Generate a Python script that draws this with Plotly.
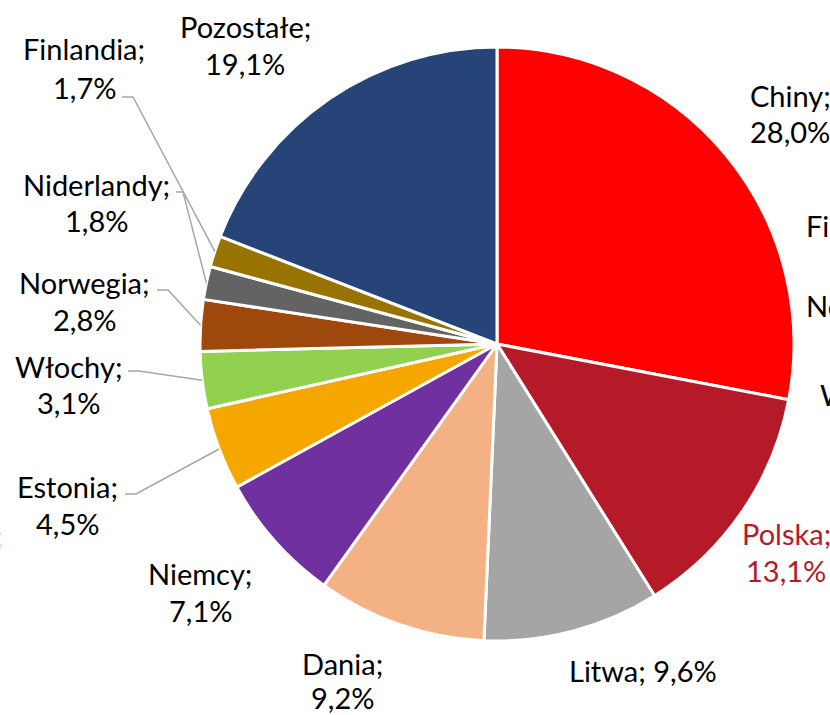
import math
import plotly.graph_objects as go

# Udział krajów (%)
countries = ["Chiny", "Polska", "Litwa", "Dania", "Niemcy", "Estonia",
             "Włochy", "Norwegia", "Niderlandy", "Finlandia", "Pozostałe"]
shares = [28.0, 13.1, 9.6, 9.2, 7.1, 4.5, 3.1, 2.8, 1.8, 1.7, 19.1]
colors = ["#FF0000", "#B41A28", "#A5A5A5", "#F4B183", "#7030A0", "#F5A700",
          "#92D050", "#9E480E", "#636363", "#997300", "#264478"]

W, H = 830, 715
CX, CY, R = 497, 344, 297  # pie centre and radius in pixels

FONT = "Lato"
FS = 29
TXT = "#000000"


def px(x):
    return x / W


def py(y):
    return 1 - y / H


def fmt(v):
    return f"{v:.1f}".replace(".", ",") + "%"


fig = go.Figure(go.Pie(
    labels=countries,
    values=shares,
    sort=False,
    direction="clockwise",
    rotation=0,
    marker=dict(colors=colors, line=dict(color="white", width=3)),
    textinfo="none",
    hoverinfo="label+percent",
    domain=dict(x=[(CX - R) / W, (CX + R) / W],
                y=[(H - CY - R) / H, (H - CY + R) / H]),
    showlegend=False,
))

# label placement: (centre x, first line y, second line y or None, colour)
label_pos = {
    "Chiny": (790, 95, 131, TXT),
    "Polska": (786, 533, 570, "#B41A28"),
    "Litwa": (643, 670, None, TXT),
    "Dania": (342, 663, 697, TXT),
    "Niemcy": (200, 573, 610, TXT),
    "Estonia": (67, 486, 523, TXT),
    "Włochy": (68, 366, 402, TXT),
    "Norwegia": (84, 282, 320, TXT),
    "Niderlandy": (96, 184, 220, TXT),
    "Finlandia": (84, 48, 87, TXT),
    "Pozostałe": (245, 27, 64, TXT),
}

annotations = []
for name, val in zip(countries, shares):
    x, y1, y2, col = label_pos[name]
    if y2 is None:
        lines = [(f"{name}; {fmt(val)}", y1)]
    else:
        lines = [(f"{name};", y1), (fmt(val), y2)]
    for text, y in lines:
        annotations.append(dict(
            x=px(x), y=py(y), xref="paper", yref="paper", text=text,
            showarrow=False, xanchor="center", yanchor="middle",
            font=dict(family=FONT, size=FS, color=col)))

# fragments of neighbouring labels at the page edges
for text, x, y, anchor, col in [
    ("Finlandia;", 804, 226, "left", TXT),
    ("Norwegia;", 804, 305, "left", TXT),
    ("Włochy;", 818, 395, "left", TXT),
    ("Polska;", 4, 535, "right", "#FF0000"),
]:
    annotations.append(dict(
        x=px(x), y=py(y), xref="paper", yref="paper", text=text,
        showarrow=False, xanchor=anchor, yanchor="middle",
        font=dict(family=FONT, size=FS, color=col)))

# leader lines for the small slices: start near label, elbow, end at slice edge
leaders = {
    "Finlandia": (122, 133, 97),
    "Niderlandy": (176, 183, 192),
    "Norwegia": (157, 168, 290),
    "Włochy": (128, 139, 371),
    "Estonia": (125, 136, 494),
}
total = sum(shares)
cum = 0.0
mids = {}
for name, val in zip(countries, shares):
    mids[name] = (cum + val / 2) / total * 2 * math.pi
    cum += val

shapes = []
for name, (x0, x1, y) in leaders.items():
    th = mids[name]
    ex = CX + R * math.sin(th)
    ey = CY - R * math.cos(th)
    path = f"M {px(x0)},{py(y)} L {px(x1)},{py(y)} L {px(ex)},{py(ey)}"
    shapes.append(dict(type="path", xref="paper", yref="paper", path=path,
                       line=dict(color="#A6A6A6", width=1.5)))

fig.update_layout(
    width=W, height=H,
    margin=dict(l=0, r=0, t=0, b=0),
    paper_bgcolor="white",
    plot_bgcolor="white",
    annotations=annotations,
    shapes=shapes,
)

fig.write_html("out.html")
